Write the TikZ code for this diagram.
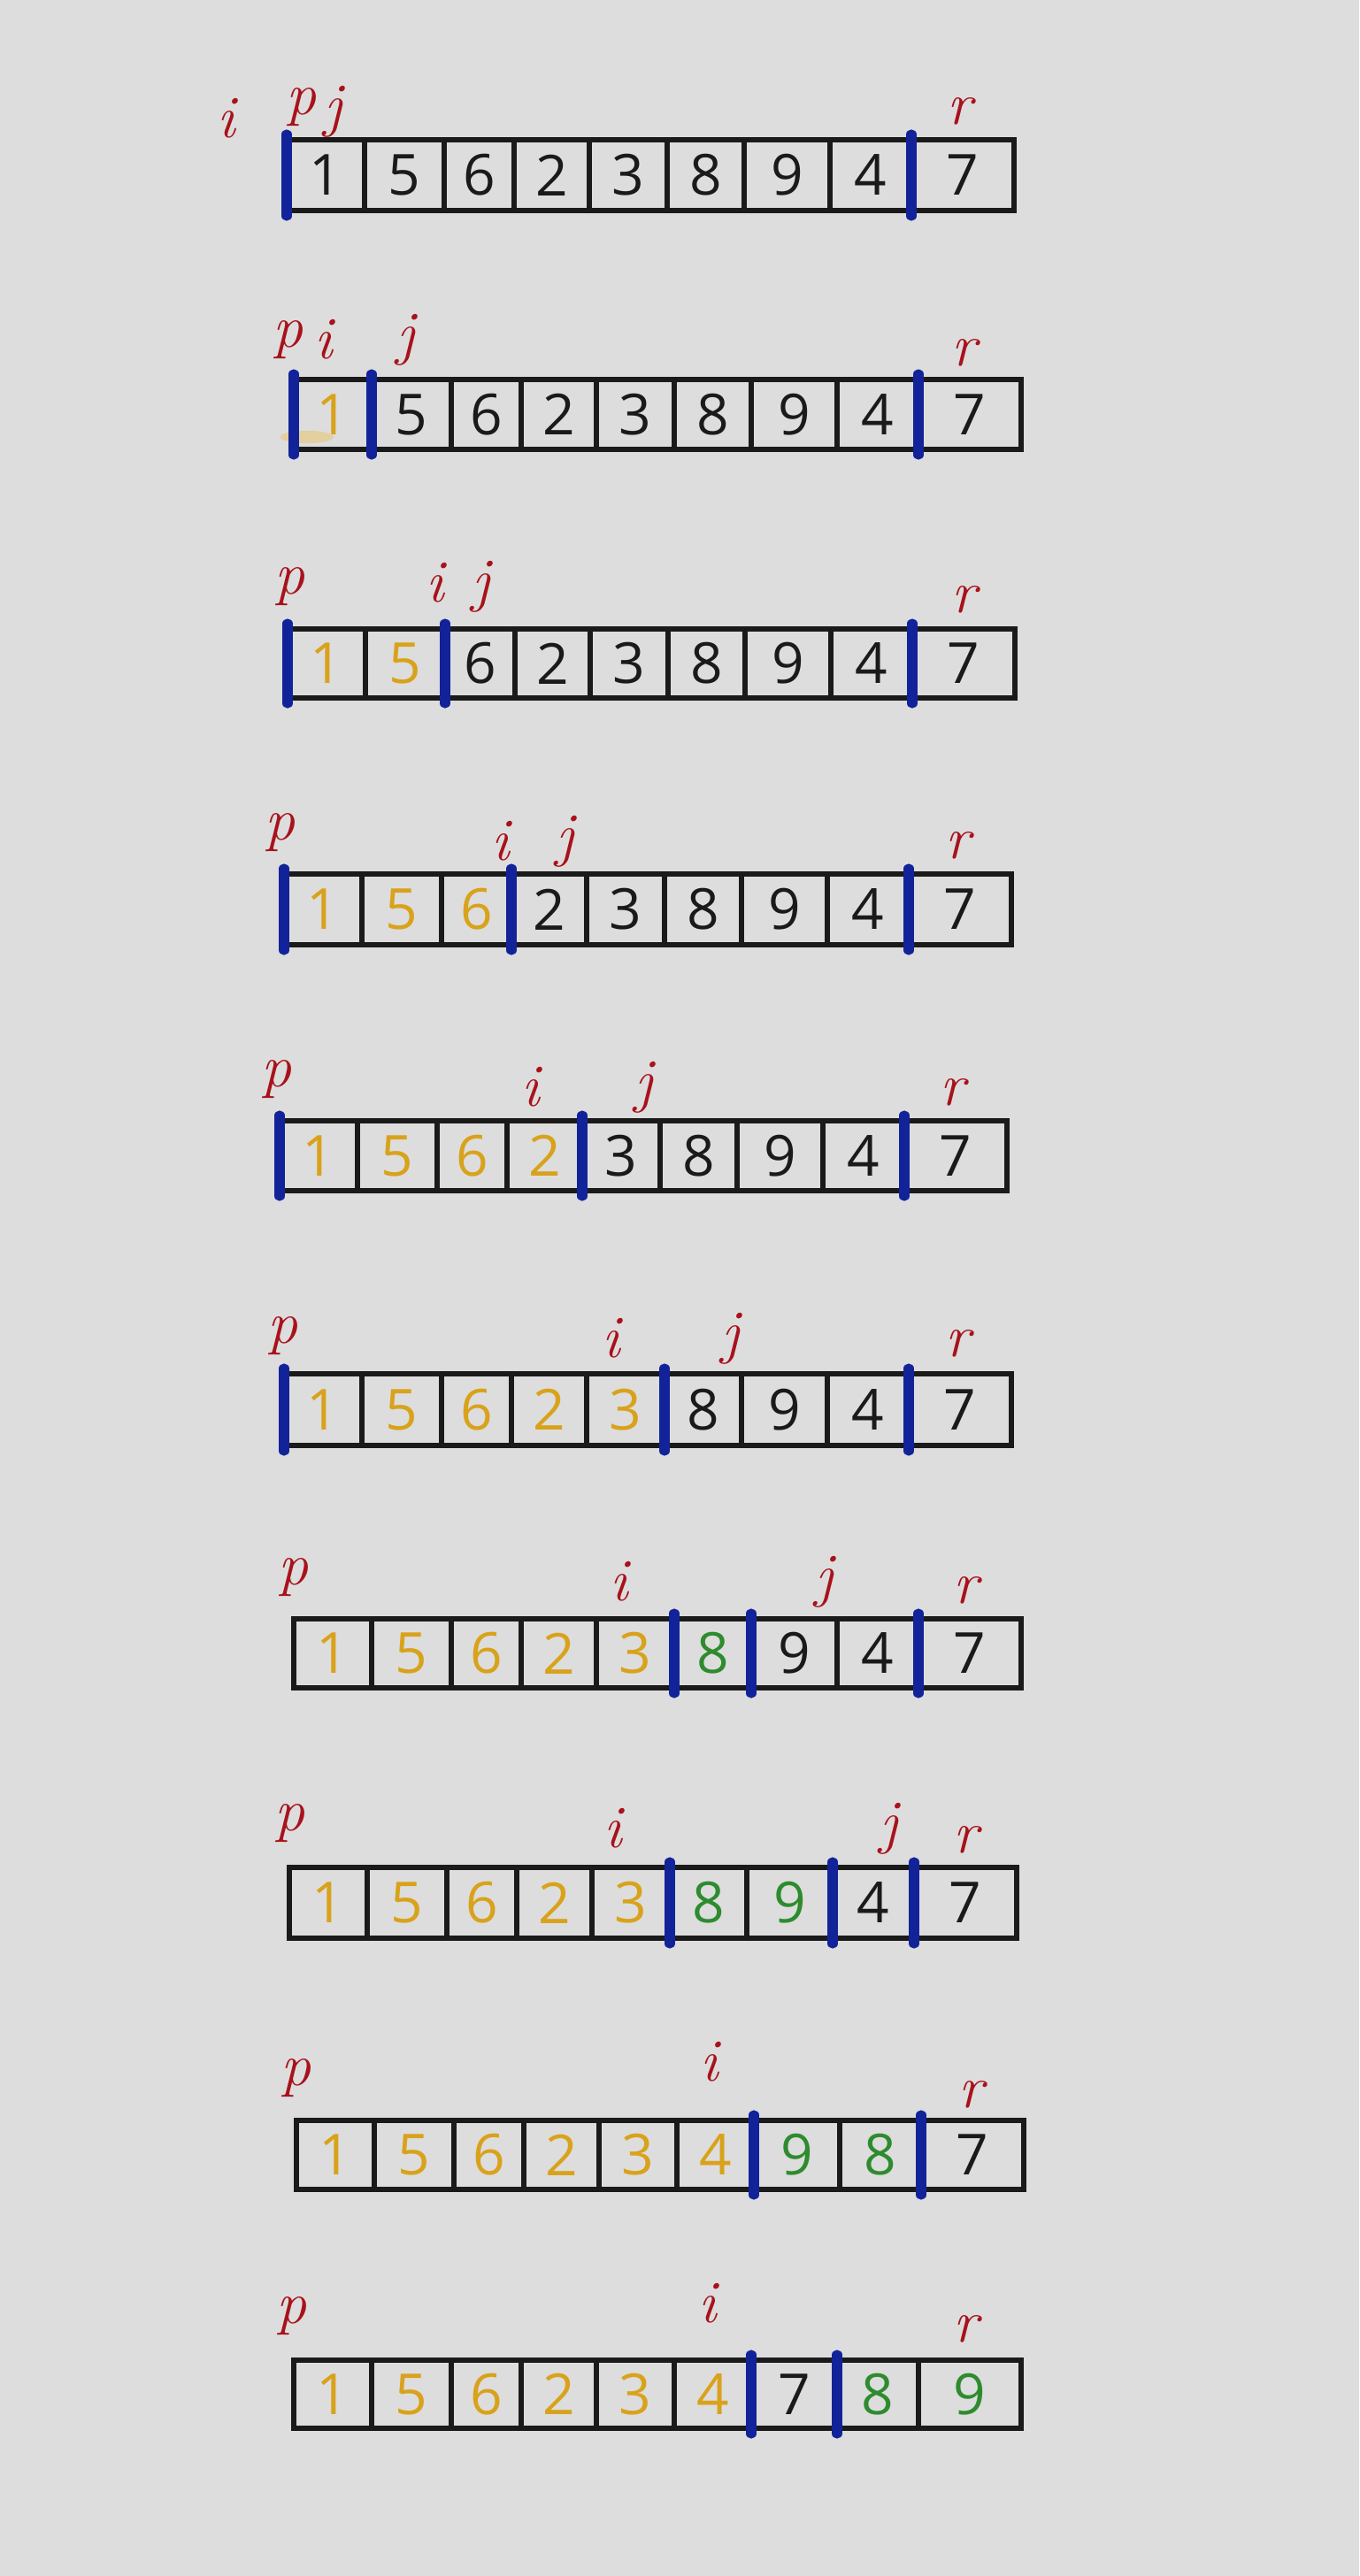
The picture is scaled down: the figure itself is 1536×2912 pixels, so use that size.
\documentclass[tikz,border=0pt]{standalone}
\usepackage{fontspec}
\newfontfamily\digitfont{Open Sans}
\definecolor{qbg}{HTML}{DDDDDD}
\definecolor{qK}{HTML}{1A1A1A}
\definecolor{qO}{HTML}{D9A21B}
\definecolor{qG}{HTML}{2E8B2E}
\definecolor{qB}{HTML}{12239A}
\definecolor{qR}{HTML}{A8121B}
\def\qT{{0,88,178,257,342,430,517,614,706,822}}
\newcommand\qrow[6]{%
  \draw[boxline] (#2,#3) rectangle ({#2+822},#4);
  \foreach \k in {1,...,8}{
    \pgfmathsetmacro\xa{#2+\qT[\k]}
    \draw[divline] (\xa,#3) -- (\xa,#4);
  }
  \foreach \d/\c [count=\n] in {#5}{
    \pgfmathsetmacro\xc{#2+(\qT[\n-1]+\qT[\n])/2}
    \node[digit,text=q\c] (d#1-\n) at (\xc,{(#3+#4)/2}) {\d};
  }
  \foreach \b in {#6}{
    \pgfmathsetmacro\xb{#2+\qT[\b]}
    \draw[bluebar] (\xb,{#3-6}) -- (\xb,{#4+6});
  }
}
\begin{document}
\begin{tikzpicture}[x=0.25pt,y=-0.25pt,
  boxline/.style={draw=qK,line width=1.6pt},
  divline/.style={draw=qK,line width=1.3pt},
  bluebar/.style={draw=qB,line width=2.8pt,line cap=round},
  digit/.style={font=\digitfont\fontsize{16}{16}\selectfont,inner sep=0pt},
  lab/.style={text=qR,font=\fontsize{17}{17}\selectfont\itshape,inner sep=0pt}]
\fill[qbg] (0,0) rectangle (1536,2912);
\useasboundingbox (0,0) rectangle (1536,2912);
% smudge in row 2
\fill[qO!60!white,opacity=0.6] (347,494) ellipse [x radius=7.5pt,y radius=1.8pt];
\qrow{1}{324}{158}{238}{1/K,5/K,6/K,2/K,3/K,8/K,9/K,4/K,7/K}{0,8}
\qrow{2}{332}{429}{508}{1/O,5/K,6/K,2/K,3/K,8/K,9/K,4/K,7/K}{0,1,8}
\qrow{3}{325}{711}{789}{1/O,5/O,6/K,2/K,3/K,8/K,9/K,4/K,7/K}{0,2,8}
\qrow{4}{321}{988}{1068}{1/O,5/O,6/O,2/K,3/K,8/K,9/K,4/K,7/K}{0,3,8}
\qrow{5}{316}{1267}{1346}{1/O,5/O,6/O,2/O,3/K,8/K,9/K,4/K,7/K}{0,4,8}
\qrow{6}{321}{1553}{1634}{1/O,5/O,6/O,2/O,3/O,8/K,9/K,4/K,7/K}{0,5,8}
\qrow{7}{332}{1830}{1908}{1/O,5/O,6/O,2/O,3/O,8/G,9/K,4/K,7/K}{5,6,8}
\qrow{8}{327}{2111}{2191}{1/O,5/O,6/O,2/O,3/O,8/G,9/G,4/K,7/K}{5,7,8}
\qrow{9}{335}{2397}{2475}{1/O,5/O,6/O,2/O,3/O,4/O,9/G,8/G,7/K}{6,8}
\qrow{10}{332}{2668}{2745}{1/O,5/O,6/O,2/O,3/O,4/O,7/K,8/G,9/G}{6,7}
% labels
\node[lab] (l1i) at (256,134) {i};
\node[lab] (l1p) at (340,121) {p};
\node[lab] (l1j) at (377,126) {j};
\node[lab] (l1r) at (1085,126) {r};
\node[lab] (l2p) at (325,384) {p};
\node[lab] (l2i) at (366,384) {i};
\node[lab] (l2j) at (459,384) {j};
\node[lab] (l2r) at (1090,399) {r};
\node[lab] (l3p) at (327,663) {p};
\node[lab] (l3i) at (492,659) {i};
\node[lab] (l3j) at (544,663) {j};
\node[lab] (l3r) at (1090,678) {r};
\node[lab] (l4p) at (316,941) {p};
\node[lab] (l4i) at (566,951) {i};
\node[lab] (l4j) at (639,951) {j};
\node[lab] (l4r) at (1083,956) {r};
\node[lab] (l5p) at (312,1220) {p};
\node[lab] (l5i) at (600,1229) {i};
\node[lab] (l5j) at (728,1229) {j};
\node[lab] (l5r) at (1077,1235) {r};
\node[lab] (l6p) at (319,1510) {p};
\node[lab] (l6i) at (691,1513) {i};
\node[lab] (l6j) at (826,1513) {j};
\node[lab] (l6r) at (1083,1519) {r};
\node[lab] (l7p) at (331,1783) {p};
\node[lab] (l7i) at (700,1788) {i};
\node[lab] (l7j) at (932,1788) {j};
\node[lab] (l7r) at (1092,1798) {r};
\node[lab] (l8p) at (327,2061) {p};
\node[lab] (l8i) at (693,2067) {i};
\node[lab] (l8j) at (1005,2067) {j};
\node[lab] (l8r) at (1092,2080) {r};
\node[lab] (l9p) at (334,2349) {p};
\node[lab] (l9i) at (802,2331) {i};
\node[lab] (l9r) at (1098,2368) {r};
\node[lab] (l10p) at (329,2618) {p};
\node[lab] (l10i) at (800,2604) {i};
\node[lab] (l10r) at (1092,2633) {r};
\end{tikzpicture}
\end{document}
